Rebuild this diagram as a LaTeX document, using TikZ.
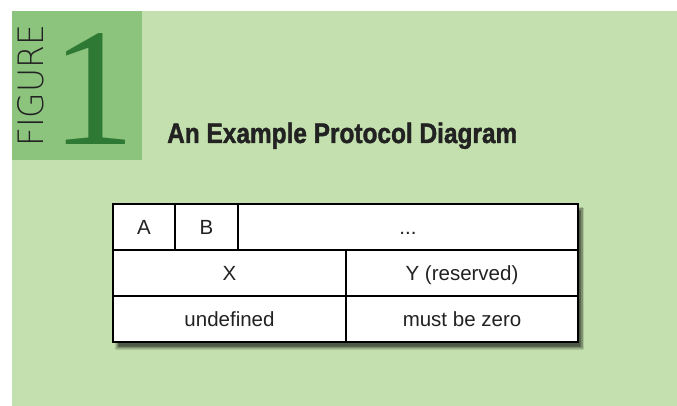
\documentclass[tikz,border=0pt]{standalone}
\usepackage{fontspec}
\usetikzlibrary{shadows.blur}
\newfontfamily\cellfont{Liberation Sans}
\newfontfamily\titlefont[BoldFeatures={FakeBold=1.6}]{Liberation Sans}
\newfontfamily\thinfont{DejaVu Sans ExtraLight}
\newfontfamily\numfont{Liberation Serif}
\definecolor{bgreen}{RGB}{195,224,174}
\definecolor{sqgreen}{RGB}{140,196,126}
\definecolor{onegreen}{RGB}{46,122,52}
\definecolor{txt}{RGB}{34,34,34}
\tikzset{
  cell/.style={draw=black, line width=1.4pt, fill=white, anchor=north west,
    inner sep=0pt, outer sep=0pt, minimum height=46pt,
    font=\cellfont\fontsize{20.5}{20.5}\selectfont, text=txt,
    text height=14.7pt, text depth=0pt},
}
\begin{document}
\begin{tikzpicture}[x=1pt,y=1pt]
\useasboundingbox (0,0) rectangle (677,406);
\fill[white] (0,0) rectangle (677,406);
\fill[bgreen] (12,0) rectangle (677,395);
\fill[sqgreen] (12,246) rectangle (142,395);
% FIGURE
\node[rotate=90, anchor=base west, inner sep=0pt, text=txt] (fig) at (43,259)
  {\resizebox{122pt}{26pt}{\thinfont FIGURE}};
% 1
\node[anchor=base, inner sep=0pt, text=onegreen] (one) at (93.5,261)
  {\numfont\fontsize{168}{168}\selectfont 1};
% title
\node[anchor=base west, inner sep=0pt, text=txt] (title) at (167,263)
  {\resizebox{350pt}{20.5pt}{\titlefont\bfseries An Example Protocol Diagram}};
% table shadow
\node[fill=white, inner sep=0pt, outer sep=0pt, anchor=north west,
  minimum width=465pt, minimum height=139pt,
  blur shadow={shadow xshift=4pt, shadow yshift=-5pt, shadow blur steps=8, shadow opacity=60}]
  (tbl) at (113,202) {};
% cells
\node[cell, minimum width=62pt] (a) at (113,202) {A};
\node[cell, minimum width=63pt] (b) at (175,202) {B};
\node[cell, minimum width=340pt] (dots) at (238,202) {...};
\node[cell, minimum width=233pt] (x) at (113,156) {X};
\node[cell, minimum width=232pt] (y) at (346,156) {Y (reserved)};
\node[cell, minimum width=233pt] (undef) at (113,110) {undefined};
\node[cell, minimum width=232pt] (zero) at (346,110) {must be zero};
\end{tikzpicture}
\end{document}
